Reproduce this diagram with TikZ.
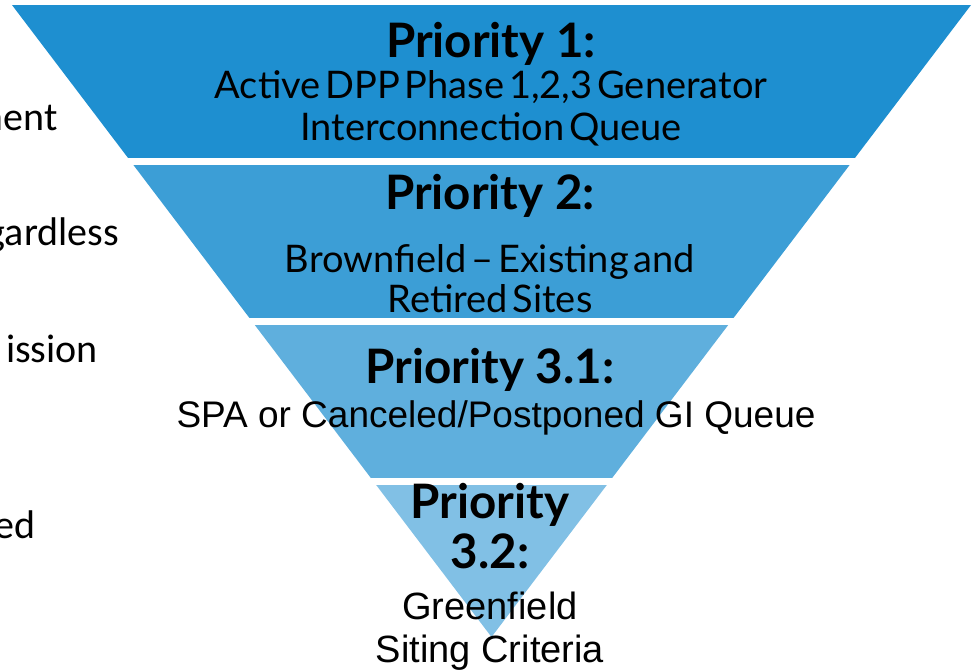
\documentclass[tikz,border=0pt]{standalone}
\usepackage{fontspec}
\setmainfont{Lato}
\newfontfamily\bodyfont[WordSpace=0.5]{Lato}
\newfontfamily\arialfont{Liberation Sans}
\newfontfamily\sidefont{Carlito}
\usepackage{tikz}
\usetikzlibrary{positioning}
\definecolor{bandA}{HTML}{1E8FD0}
\definecolor{bandB}{HTML}{3C9ED6}
\definecolor{bandC}{HTML}{5FAFDD}
\definecolor{bandD}{HTML}{81C0E5}

\begin{document}
\begin{tikzpicture}[x=1pt,y=-1pt,
    head/.style={font=\bfseries\fontsize{47.5}{50}\selectfont,inner sep=0pt,anchor=base,align=center},
    body/.style={font=\bodyfont\fontsize{38}{42}\selectfont,inner sep=0pt,anchor=base,align=center},
    plain/.style={font=\arialfont\fontsize{38}{43}\selectfont,inner sep=0pt,anchor=base,align=center},
    side/.style={font=\sidefont\fontsize{40}{44}\selectfont,inner sep=0pt,anchor=base east}]
    \useasboundingbox (0,0) rectangle (976,670);
    % the funnel, cut into four bands
    \begin{scope}
        \clip (12,5) -- (971,5) -- (491.5,637) -- cycle;
        \foreach \top/\col in {5/bandA,165/bandB,325/bandC,485/bandD}
            \fill [\col] (0,\top) rectangle +(976,153);
    \end{scope}
    % left hand texts, cut off by the frame
    \node [side] (ment) at (58,130) {ment};
    \node [side] (regardless) at (119,245) {gardless};
    \node [side] (mission) at (98,362) {ission};
    \node [side] (ed) at (36,538) {ed};
    % priority labels (multi-line nodes sit on their last baseline)
    \node [head] (prioA) at (491,57) {Priority 1:};
    \node [body] (queueA) at (491,140) {Active DPP Phase 1,2,3 Generator\\Interconnection Queue};
    \node [head] (prioB) at (490,209) {Priority 2:};
    \node [body,font=\bodyfont\fontsize{38}{40}\selectfont] (brown) at (490,312) {Brownfield – Existing and\\Retired Sites};
    \node [head] (prioC) at (490,383) {Priority 3.1:};
    \node [plain,font=\arialfont\fontsize{37}{42}\selectfont] (spa) at (496,427) {SPA or Canceled/Postponed GI Queue};
    \node [head] (prioD) at (490,568) {Priority\\3.2:};
    \node [plain] (green) at (490,662) {Greenfield\\Siting Criteria};
\end{tikzpicture}
\end{document}
